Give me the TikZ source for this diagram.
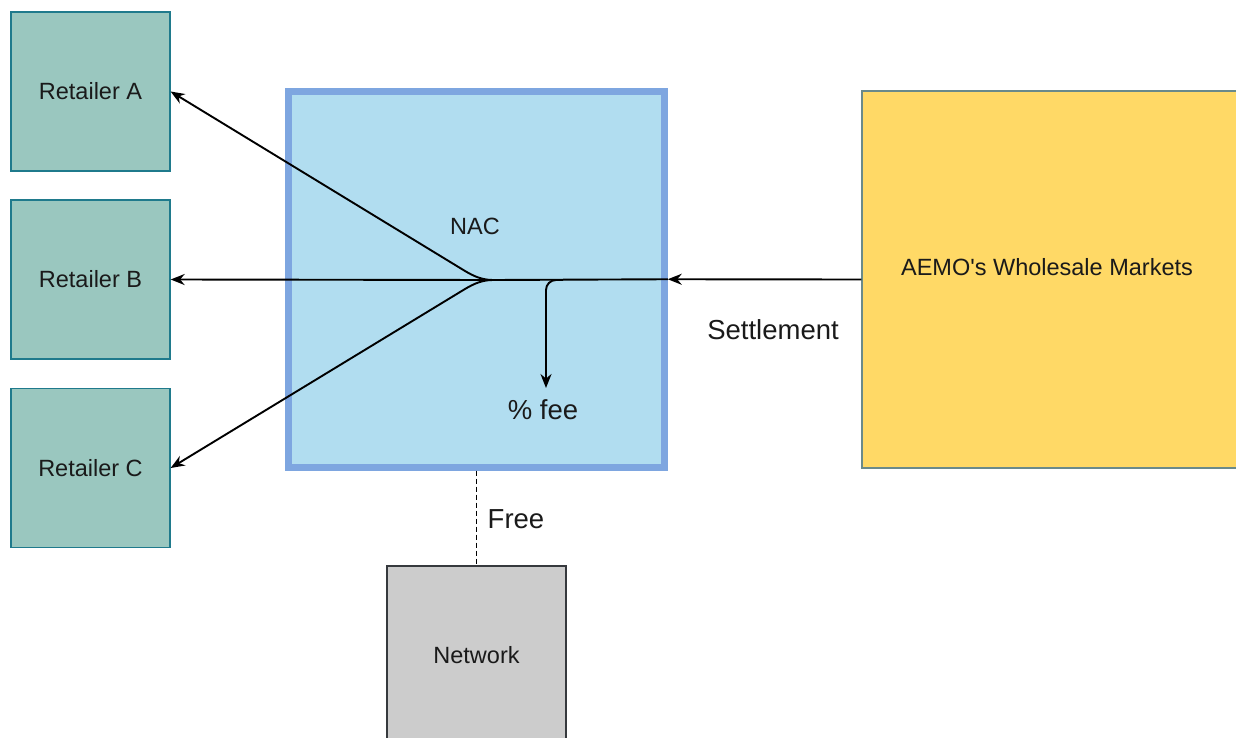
\documentclass[tikz,border=0pt]{standalone}
\usepackage{fontspec}
\setmainfont{Liberation Sans}
\usetikzlibrary{arrows.meta}
\definecolor{retfill}{HTML}{9AC7BF}
\definecolor{retdraw}{HTML}{1F7A8C}
\definecolor{nacfill}{HTML}{B1DDF0}
\definecolor{nacdraw}{HTML}{7EA6E0}
\definecolor{aemofill}{HTML}{FFD966}
\definecolor{aemodraw}{HTML}{6A8A8A}
\definecolor{netfill}{HTML}{CCCCCC}
\definecolor{netdraw}{HTML}{36393D}
\definecolor{txt}{HTML}{1A1A1A}
\begin{document}
\begin{tikzpicture}[x=1pt,y=-1pt,
  boxfont/.style={font=\fontsize{23.5pt}{28pt}\selectfont, text=txt},
  lblfont/.style={font=\fontsize{27.5pt}{33pt}\selectfont, text=txt},
  retbox/.style={draw=retdraw, fill=retfill, line width=1.3pt, minimum width=159pt, minimum height=159pt, inner sep=0pt, boxfont},
  nacbox/.style={draw=nacdraw, fill=nacfill, line width=7pt, minimum width=375.5pt, minimum height=375.5pt, inner sep=0pt},
  aemobox/.style={draw=aemodraw, fill=aemofill, line width=1.3pt, minimum width=378pt, minimum height=377pt, inner sep=0pt},
  netbox/.style={draw=netdraw, fill=netfill, line width=1.3pt, minimum width=179pt, minimum height=179pt, inner sep=0pt, boxfont},
  conn/.style={draw=black, line width=1.9pt},
  arr/.style={-{Stealth[length=14pt,width=11pt]}},
  dashline/.style={dash pattern=on 5pt off 3pt}
]
\useasboundingbox (0,0) rectangle (1236,738);
\fill[white] (0,0) rectangle (1236,738);

% boxes
\node[retbox] (ra) at (90.5,91.5) {Retailer A};
\node[retbox] (rb) at (90.5,279.5) {Retailer B};
\node[retbox] (rc) at (90.5,468) {Retailer C};
\node[nacbox] (nac) at (476.5,279.25) {};
\node[boxfont] (naclbl) at (475,226) {NAC};
\node[aemobox] (aemo) at (1051,279.5) {};
\node[boxfont] (aemolbl) at (1047,267) {AEMO\textquotesingle s Wholesale Markets};
\node[netbox] (net) at (476.5,655.5) {Network};

% coordinates
\coordinate (J) at (493,280);
\coordinate (JA) at (465,271);
\coordinate (JC) at (465,289);
\coordinate (F) at (563,280);
\coordinate (Fb) at (546,280);
\coordinate (Fd) at (546,388);

% connectors
\draw[conn,arr] (aemo.west) -- (nac.east);
\draw[conn] (nac.east) -- (J);
\draw[conn,arr] (J) -- (rb.east);
\draw[conn,arr] (J) .. controls (482,280) and (473.6,276.1) .. (JA) -- (ra.east);
\draw[conn,arr] (J) .. controls (482,280) and (473.6,283.9) .. (JC) -- (rc.east);
\draw[conn,arr,rounded corners=10pt] (F) -- (Fb) -- (Fd);
\draw[conn,dashline] (nac.south) -- (net.north);

% labels
\node[lblfont] (settle) at (773,330) {Settlement};
\node[lblfont] (fee) at (543,410) {\% fee};
\node[lblfont] (free) at (516,519) {Free};
\end{tikzpicture}
\end{document}
